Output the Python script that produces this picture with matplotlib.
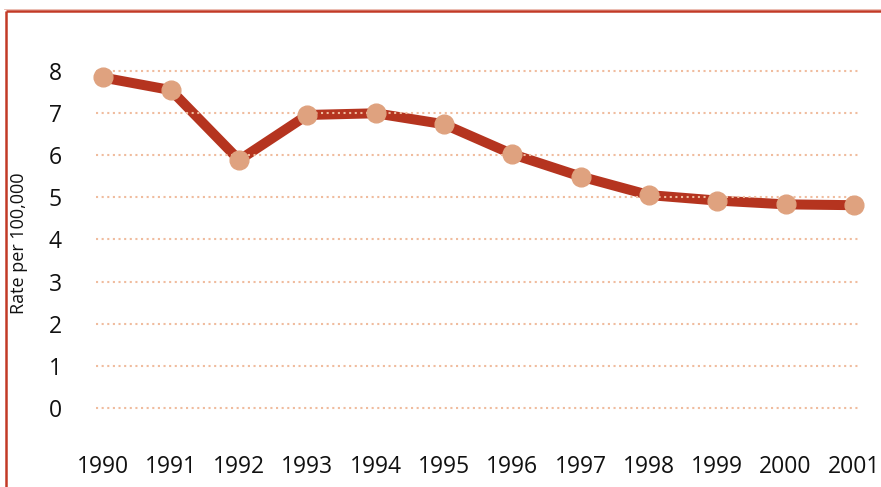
import matplotlib
matplotlib.use("Agg")
import matplotlib.pyplot as plt
from matplotlib.lines import Line2D

years = ["1990", "1991", "1992", "1993", "1994", "1995", "1996", "1997", "1998", "1999", "2000", "2001"]
rates = [7.84, 7.54, 5.88, 6.95, 6.99, 6.73, 6.02, 5.49, 5.05, 4.92, 4.83, 4.81]
y_ticks = [0, 1, 2, 3, 4, 5, 6, 7, 8]
y_label = "Rate per 100,000"

LINE = "#b5341f"
MARK = "#dfa27f"
GRID = "#f0bc9e"
FRAME = "#c23a26"

plt.rcParams["font.family"] = ["Open Sans", "DejaVu Sans"]

fig = plt.figure(figsize=(8.81, 4.87), dpi=100)
ax = fig.add_axes([95.7/881, 1-408/487, (858-95.7)/881, (408-70.7)/487])

x = list(range(len(years)))
ax.plot(x, rates, color=LINE, lw=7.2, solid_capstyle="butt", zorder=2, clip_on=False)
ax.plot(x, rates, ls="none", marker="o", ms=13.5, mfc=MARK, mec=MARK, zorder=4, clip_on=False)

ax.set_xlim(-0.1, 11.06)
ax.set_ylim(0, 8)
ax.set_yticks(y_ticks)
ax.set_yticklabels([str(t) for t in y_ticks])
ax.set_xticks(x)
ax.set_xticklabels(years)

for t in y_ticks:
    ax.axhline(t, color=GRID, lw=1.5, ls=(0, (1, 1.7)), zorder=3, clip_on=False)

for s in ax.spines.values():
    s.set_visible(False)
ax.tick_params(axis="both", length=0, labelsize=16.5, colors="#111111")
ax.tick_params(axis="x", pad=34)
for lab in ax.get_yticklabels():
    lab.set_horizontalalignment("center")
ax.tick_params(axis="y", pad=29)

fig.text(19/881, 1-243.5/487, y_label, rotation=90, ha="center", va="center",
         fontsize=13, color="#111111")

# frame lines (top and left)
fig.add_artist(Line2D([5.5/881, 1.0], [1-10.5/487, 1-10.5/487], transform=fig.transFigure,
                      color=FRAME, lw=1.8, solid_capstyle="butt"))
fig.add_artist(Line2D([6.2/881, 6.2/881], [1-10.5/487, 0], transform=fig.transFigure,
                      color=FRAME, lw=1.8, solid_capstyle="butt"))
fig.add_artist(Line2D([4/881, 1.0], [1-8.6/487, 1-8.6/487], transform=fig.transFigure,
                      color="#e8b2a6", lw=0.6))

fig.savefig("out.png", dpi=100)
